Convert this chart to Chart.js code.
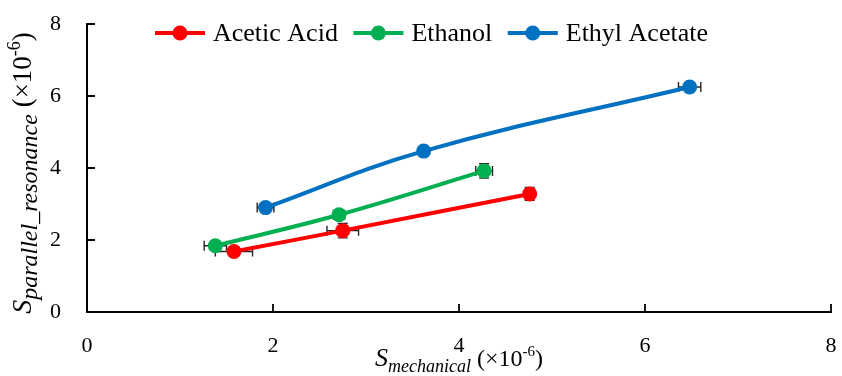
<!DOCTYPE html>
<html>
<head>
<meta charset="utf-8">
<script src="https://cdn.jsdelivr.net/npm/chart.js@4.4.1/dist/chart.umd.min.js"></script>
<style>
  html, body { margin: 0; padding: 0; background: #ffffff; }
  #wrap { width: 842px; height: 376px; position: relative; }
</style>
</head>
<body>
<div id="wrap"><canvas id="c" width="842" height="376"></canvas></div>
<script>
// Series: S_mechanical (x) vs S_parallel_resonance (y), both in units of 1e-6
const seriesNames = ['Acetic Acid', 'Ethanol', 'Ethyl Acetate'];
const seriesColors = ['#FF0000', '#00B050', '#0070C0'];

const aceticX = [1.58, 2.75, 4.76];
const aceticY = [1.68, 2.26, 3.28];
const aceticXErr = [0.20, 0.17, 0.05];
const aceticYErr = [0.10, 0.20, 0.18];

const ethanolX = [1.38, 2.71, 4.27];
const ethanolY = [1.84, 2.70, 3.92];
const ethanolXErr = [0.12, 0.06, 0.09];
const ethanolYErr = [0.10, 0.12, 0.20];

const ethylX = [1.92, 3.62, 6.48];
const ethylY = [2.90, 4.47, 6.25];
const ethylXErr = [0.09, 0.03, 0.12];
const ethylYErr = [0.05, 0.03, 0.05];

const xTicks = [0, 2, 4, 6, 8];
const yTicks = [0, 2, 4, 6, 8];

const SERIF = '"Liberation Serif", "DejaVu Serif", serif';

function pts(xs, ys) { return xs.map((x, i) => ({ x: x, y: ys[i] })); }

const allX = [aceticX, ethanolX, ethylX];
const allY = [aceticY, ethanolY, ethylY];
const allXErr = [aceticXErr, ethanolXErr, ethylXErr];
const allYErr = [aceticYErr, ethanolYErr, ethylYErr];

const datasets = seriesNames.map((name, i) => ({
  label: name,
  data: pts(allX[i], allY[i]),
  xErr: allXErr[i],
  yErr: allYErr[i],
  showLine: true,
  tension: 0.4,
  borderColor: seriesColors[i],
  backgroundColor: seriesColors[i],
  borderWidth: 4,
  pointRadius: 7.5,
  pointHoverRadius: 7.5,
  pointBorderWidth: 0
}));

// Horizontal and vertical error bars with end caps, drawn under the markers
const errorBars = {
  id: 'errorBars',
  beforeDatasetsDraw(chart) {
    const ctx = chart.ctx;
    const xs = chart.scales.x, ys = chart.scales.y;
    const cap = 5;
    ctx.save();
    ctx.strokeStyle = '#262626';
    ctx.lineWidth = 1.4;
    chart.data.datasets.forEach(ds => {
      ds.data.forEach((p, j) => {
        const px = xs.getPixelForValue(p.x), py = ys.getPixelForValue(p.y);
        const xl = xs.getPixelForValue(p.x - ds.xErr[j]);
        const xr = xs.getPixelForValue(p.x + ds.xErr[j]);
        const yt = ys.getPixelForValue(p.y + ds.yErr[j]);
        const yb = ys.getPixelForValue(p.y - ds.yErr[j]);
        ctx.beginPath();
        ctx.moveTo(xl, py); ctx.lineTo(xr, py);
        ctx.moveTo(xl, py - cap); ctx.lineTo(xl, py + cap);
        ctx.moveTo(xr, py - cap); ctx.lineTo(xr, py + cap);
        ctx.moveTo(px, yt); ctx.lineTo(px, yb);
        ctx.moveTo(px - cap, yt); ctx.lineTo(px + cap, yt);
        ctx.moveTo(px - cap, yb); ctx.lineTo(px + cap, yb);
        ctx.stroke();
      });
    });
    ctx.restore();
  }
};

// Inward tick marks on both axes
const innerTicks = {
  id: 'innerTicks',
  afterDraw(chart) {
    const ctx = chart.ctx;
    const xs = chart.scales.x, ys = chart.scales.y;
    const a = chart.chartArea;
    const len = 8;
    ctx.save();
    ctx.strokeStyle = '#000';
    ctx.lineWidth = 1.8;
    ctx.beginPath();
    xTicks.forEach(v => {
      const px = Math.round(xs.getPixelForValue(v));
      ctx.moveTo(px, a.bottom); ctx.lineTo(px, a.bottom - len);
    });
    yTicks.forEach(v => {
      const py = Math.round(ys.getPixelForValue(v));
      ctx.moveTo(a.left, py); ctx.lineTo(a.left + len, py);
    });
    ctx.stroke();
    ctx.restore();
  }
};

// Draw a run of text pieces (normal / subscript / superscript) starting at x
function drawRuns(ctx, runs, x, y) {
  let cx = x;
  runs.forEach(r => {
    ctx.font = r.font;
    ctx.fillText(r.text, cx, y + (r.dy || 0));
    cx += ctx.measureText(r.text).width;
  });
  return cx - x;
}
function measureRuns(ctx, runs) {
  let w = 0;
  runs.forEach(r => { ctx.font = r.font; w += ctx.measureText(r.text).width; });
  return w;
}

const xTitleRuns = [
  { text: 'S', font: 'italic 26px ' + SERIF },
  { text: 'mechanical', font: 'italic 18px ' + SERIF, dy: 6 },
  { text: ' (×10', font: '24px ' + SERIF },
  { text: '-6', font: '15px ' + SERIF, dy: -10 },
  { text: ')', font: '24px ' + SERIF }
];
const yTitleRuns = [
  { text: 'S', font: 'italic 28px ' + SERIF },
  { text: 'parallel_resonance', font: 'italic 24px ' + SERIF, dy: 6 },
  { text: ' (×10', font: '27px ' + SERIF },
  { text: '-6', font: '18px ' + SERIF, dy: -11 },
  { text: ')', font: '27px ' + SERIF }
];

const axisTitles = {
  id: 'axisTitles',
  afterDraw(chart) {
    const ctx = chart.ctx;
    const a = chart.chartArea;
    ctx.save();
    ctx.fillStyle = '#000';
    ctx.textBaseline = 'alphabetic';
    ctx.textAlign = 'left';
    const wx = measureRuns(ctx, xTitleRuns);
    drawRuns(ctx, xTitleRuns, (a.left + a.right) / 2 - wx / 2, 366);
    const wy = measureRuns(ctx, yTitleRuns);
    ctx.translate(31, (a.top + a.bottom) / 2 + 5);
    ctx.rotate(-Math.PI / 2);
    drawRuns(ctx, yTitleRuns, -wy / 2, 0);
    ctx.restore();
  }
};

// Legend inside the plot area: line with a centred marker, then the name
const lineLegend = {
  id: 'lineLegend',
  afterDraw(chart) {
    const ctx = chart.ctx;
    let x = 155;
    const y = 33;
    ctx.save();
    ctx.font = '26px ' + SERIF;
    ctx.textBaseline = 'middle';
    ctx.textAlign = 'left';
    chart.data.datasets.forEach(ds => {
      ctx.strokeStyle = ds.borderColor;
      ctx.lineWidth = 4;
      ctx.beginPath();
      ctx.moveTo(x, y); ctx.lineTo(x + 50, y);
      ctx.stroke();
      ctx.fillStyle = ds.backgroundColor;
      ctx.beginPath();
      ctx.arc(x + 25, y, 7.5, 0, Math.PI * 2);
      ctx.fill();
      ctx.fillStyle = '#000';
      ctx.fillText(ds.label, x + 58, y + 1);
      x += 58 + ctx.measureText(ds.label).width + 15.5;
    });
    ctx.restore();
  }
};

new Chart(document.getElementById('c'), {
  type: 'scatter',
  data: { datasets: datasets },
  options: {
    responsive: false,
    animation: false,
    events: [],
    layout: { padding: { top: 24, right: 11, left: 0, bottom: 0 } },
    plugins: { legend: { display: false }, tooltip: { enabled: false } },
    scales: {
      x: {
        type: 'linear', min: 0, max: 8,
        afterBuildTicks(s) { s.ticks = xTicks.map(v => ({ value: v })); },
        afterFit(s) { s.height = 64; s.paddingLeft = 0; s.paddingRight = 0; },
        grid: { display: false, drawTicks: false },
        border: { display: true, color: '#000', width: 2 },
        ticks: { color: '#000', padding: 21, font: { family: SERIF, size: 22 } }
      },
      y: {
        type: 'linear', min: 0, max: 8,
        afterBuildTicks(s) { s.ticks = yTicks.map(v => ({ value: v })); },
        afterFit(s) { s.width = 87; s.paddingTop = 0; s.paddingBottom = 0; },
        grid: { display: false, drawTicks: false },
        border: { display: true, color: '#000', width: 2 },
        ticks: { color: '#000', padding: 26, font: { family: SERIF, size: 22 } }
      }
    }
  },
  plugins: [errorBars, innerTicks, axisTitles, lineLegend]
});
</script>
</body>
</html>
